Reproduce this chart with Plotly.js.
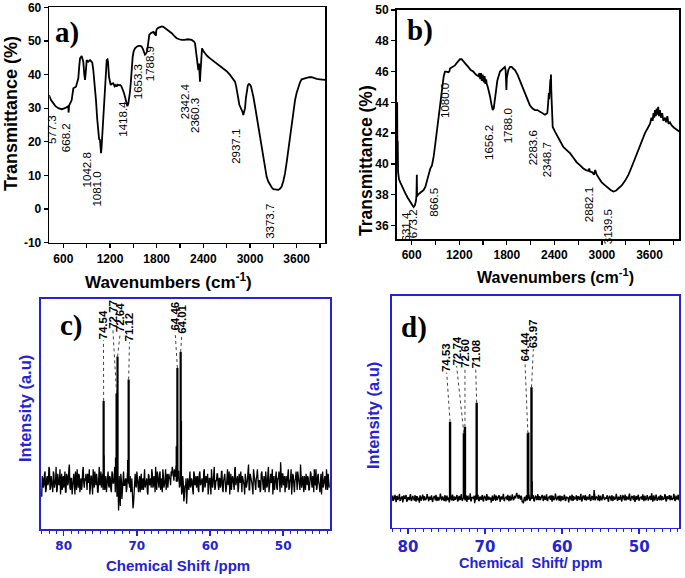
<!DOCTYPE html>
<html><head><meta charset="utf-8">
<script src="https://cdn.plot.ly/plotly-3.0.1.min.js"></script>
<style>html,body{margin:0;padding:0;background:#fff;}#chart{width:685px;height:578px;}</style>
</head><body><div id="chart"></div>
<script>
// ---------- Panel a: FTIR ----------
const irA_wn = [416,440,471,500,536,579,622,650,664,668,675,708,729,763,780,793,805,815,836,857,870,879,888,901,921,943,960,973,985,995,1008,1020,1037,1050,1060,1072,1078,1085,1091,1097,1105,1114,1125,1136,1148,1158,1168,1175,1187,1198,1209,1225,1243,1260,1275,1286,1300,1315,1329,1345,1364,1380,1393,1410,1423,1435,1445,1455,1467,1480,1492,1505,1522,1545,1564,1590,1608,1625,1637,1650,1659,1670,1680,1686,1693,1705,1724,1740,1757,1770,1779,1785,1790,1795,1801,1820,1843,1865,1886,1905,1929,1960,1994,2025,2058,2090,2122,2160,2200,2250,2280,2293,2306,2315,2323,2330,2336,2341,2345,2350,2357,2363,2370,2377,2383,2400,2421,2450,2486,2530,2572,2615,2657,2700,2743,2780,2807,2822,2837,2850,2863,2880,2893,2905,2914,2925,2936,2947,2958,2972,2987,3000,3013,3028,3043,3065,3086,3108,3129,3150,3171,3193,3214,3235,3257,3280,3300,3330,3364,3385,3407,3428,3450,3472,3493,3515,3536,3558,3579,3600,3621,3643,3664,3695,3729,3760,3793,3825,3857,3900,3951,3964];
const irA_T = [33.9,32.5,31.5,30.6,30.0,29.7,30.0,30.3,30.6,28.7,30.8,32.4,35.9,36.4,37.5,38.9,42.5,44.8,45.5,43.8,40.0,38.4,40.5,44.3,43.8,44.3,43.9,43.5,41.5,39.4,35.5,32.4,26.5,21.5,20.8,20.5,18.5,16.6,18.0,20.5,24.5,27.5,33.0,37.4,42.5,44.3,44.5,43.8,39.4,37.5,36.9,37.3,37.4,36.5,36.9,36.4,37.0,36.8,36.9,36.6,35.6,34.5,33.4,31.3,30.6,31.3,32.4,34.5,37.4,42.0,45.3,47.0,47.8,48.3,48.5,48.5,48.3,47.5,46.3,45.9,46.1,46.5,47.3,49.0,50.8,51.8,52.3,52.5,52.7,52.2,51.8,52.8,51.5,53.0,53.5,53.9,54.2,54.3,54.2,53.9,53.5,52.9,52.3,51.5,50.8,50.5,50.3,50.3,50.5,50.3,49.8,49.3,46.3,44.0,42.8,41.5,41.3,43.0,43.3,41.0,37.9,40.5,43.4,46.0,47.8,47.0,46.3,45.5,44.8,44.0,43.3,42.6,41.9,41.0,39.9,38.8,37.9,36.5,34.9,32.8,31.0,30.2,29.5,28.8,28.0,28.8,30.0,33.0,35.4,36.8,37.2,37.0,36.4,35.2,33.4,30.5,27.5,24.0,20.5,17.5,14.6,12.0,9.6,8.2,7.2,6.4,5.9,5.7,5.7,6.0,6.7,8.3,10.6,14.0,17.6,21.5,25.5,29.2,32.4,34.6,36.4,37.7,38.6,38.8,38.9,39.2,39.2,38.9,38.7,38.6,38.4,38.4];
const irA_peakLabels = ['577.3','668.2','1042.8','1081.0','1418.4','1653.3','1788.9','2342.4','2360.3','2937.1','3373.7'];
const irA_yTicks = [-10,0,10,20,30,40,50,60];

// ---------- Panel b: FTIR ----------
const irB_wn = [411,414,417,420,424,428,440,456,480,500,519,550,582,605,625,640,654,660,665,668,680,705,730,750,772,795,814,835,856,866,878,898,919,940,961,982,1004,1020,1040,1062,1075,1083,1110,1146,1175,1209,1230,1251,1280,1314,1345,1377,1410,1440,1455,1465,1475,1485,1495,1503,1510,1520,1530,1540,1546,1560,1575,1588,1605,1622,1635,1651,1665,1680,1697,1714,1735,1756,1775,1785,1790,1795,1800,1810,1819,1840,1861,1880,1903,1935,1966,2000,2029,2060,2092,2125,2155,2185,2218,2250,2282,2300,2311,2318,2323,2330,2335,2340,2345,2350,2354,2357,2361,2366,2372,2379,2408,2440,2471,2513,2555,2597,2640,2682,2725,2765,2800,2830,2840,2849,2880,2900,2915,2925,2934,2965,2997,3040,3080,3110,3143,3175,3206,3250,3291,3335,3375,3420,3459,3500,3543,3575,3606,3625,3640,3650,3660,3669,3680,3690,3700,3710,3720,3732,3745,3760,3775,3795,3810,3825,3840,3858,3880,3910,3942,3976];
const irB_T = [43.9,42.0,44.0,40.2,41.5,39.5,39.0,38.8,38.5,38.25,38.1,37.8,37.5,37.35,37.2,37.3,37.6,37.9,39.3,37.9,38.0,38.1,38.2,38.3,38.5,38.9,39.4,39.7,39.9,40.1,40.5,41.3,42.2,43.0,43.7,44.6,45.7,46.0,46.0,45.95,46.0,46.2,46.3,46.4,46.6,46.8,46.8,46.7,46.5,46.3,46.1,46.0,45.8,45.7,45.9,45.5,45.9,45.4,45.8,45.6,45.3,45.7,45.2,45.5,45.2,45.0,44.7,44.4,43.9,43.5,43.6,44.1,44.8,45.4,45.8,46.0,46.1,46.2,46.3,46.1,45.0,44.8,45.6,46.0,46.1,46.3,46.3,46.2,46.1,45.8,45.4,45.0,44.6,44.2,43.8,43.6,43.5,43.5,43.4,43.3,43.2,43.25,43.3,43.7,44.1,44.6,44.2,45.0,44.8,45.5,44.6,45.8,44.8,44.1,43.2,42.4,42.1,41.8,41.5,41.1,40.9,40.7,40.4,40.1,39.9,39.7,39.6,39.55,39.7,39.5,39.45,39.3,39.6,39.3,39.3,39.05,38.8,38.6,38.4,38.3,38.2,38.25,38.4,38.6,38.9,39.3,39.8,40.4,40.9,41.5,42.0,42.3,42.6,43.0,42.8,43.3,43.0,43.5,43.1,43.6,43.2,43.7,43.1,43.5,43.0,43.3,42.8,43.0,42.7,43.1,42.6,42.7,42.5,42.35,42.2,42.1];
const irB_peakLabels = ['631.4','673.2','866.5','1080.0','1656.2','1788.0','2283.6','2348.7','2882.1','3139.5'];

// ---------- Panel c: 13C NMR ----------
const nmrC_ppmSpan = [83.0, 43.7];
const nmrC_noiseA = [14,22,19,25,17,23,20,26,18,21,16,24,19,27,17,22,20,15,24,21,
18,25,16,23,20,28,17,22,19,24,15,21,26,18,23,19,17,25,20,22,
24,17,21,26,18,23,15,20,25,19,22,16,27,20,18,24,21,17,23,19,
25,18,22,16,24,20,27,29,14,19,23,10,21,17,25,19,22,18,26,20,
23,17,15,11,22,19,25,18,21,16,24,20,17,26,19,22,15,23,20,18,
24,19,21,27,17,22,18,25,20,16,23,19,26,21,18,24,22,25,27,24,
26,23,28,22,25,19,24,16,20,14,18,11,22,17,25,19,21,15,24,20,
18,23,16,25,20,22,17,26,19,21,24,18,22,15,23,20,27,18,21,24,
17,22,19,25,16,23,20,18,26,21,15,24,19,22,17,27,20,23,18,21,
25,16,22,19,24,18,21,28,17,23,20,15,24,19,22,26,18,21,17,25,
20,23,16,22,19,27,18,24,21,15,23,20,25,17,22,19,29,18,24,21,
16,23,20,26,18,22,15,24,19,21,25,17,22,20,28,18,23,16,21,24,
19,22,17,25,20,23,16,21,26,18,24,19,22,15,25,20,23,17,21,24,18];
const nmrC_noiseB = [23,18,24,16,22,19,27,17,23,20,25,18,21,16,24,19,26,22,17,23,
21,16,24,19,26,18,22,15,23,20,25,17,21,24,16,22,19,27,18,21,
17,24,20,15,23,19,26,18,21,24,16,22,19,25,21,17,23,20,16,24,
19,23,17,25,20,22,16,31,22,8,17,24,13,23,19,21,16,24,20,18,
16,22,9,19,24,18,21,16,23,20,17,22,25,18,21,16,24,19,22,26,
18,23,16,21,25,19,24,17,22,26,18,21,17,24,20,22,19,23,26,21,
23,27,21,25,18,22,15,23,12,19,22,16,20,24,18,22,17,25,19,23,
21,17,24,19,22,16,25,18,23,20,15,22,19,26,18,23,17,21,24,19,
22,18,25,17,21,24,16,22,19,25,20,17,23,18,26,19,22,16,24,20,
18,23,20,15,22,19,25,17,24,21,18,26,20,17,23,19,21,16,24,22,
17,21,25,18,24,16,22,20,26,19,17,23,18,22,25,16,21,24,19,23,
22,18,24,17,21,26,19,23,16,22,18,25,20,17,24,21,19,23,17,22,
23,17,21,24,18,22,26,19,17,23,20,16,24,21,18,23,19,26,17,22];
const nmrC_baseline = 20.6;
const nmrC_peakPpm = [74.54, 72.77, 72.64, 71.12, 64.46, 64.01];
const nmrC_peakTop = [55.7, 59, 75, 65, 70, 77];
const nmrC_shoulderPpm = [74.50, 72.90, 71.25, 64.60, 63.92];
const nmrC_shoulderTop = [32, 31, 30, 36, 47];

// ---------- Panel d: 13C NMR ----------
const nmrD_ppmSpan = [82.1, 44.8];
const nmrD_noiseA = [11.5,13.8,12.1,14.2,11.0,13.5,12.4,14.6,11.8,13.0,10.9,13.9,12.6,14.1,11.3,13.2,12.0,14.4,11.6,13.7,
12.3,14.0,11.2,13.4,12.8,10.8,13.6,12.2,14.3,11.7,13.1,12.5,14.5,11.4,13.3,12.0,13.9,11.1,13.6,12.7,
14.2,11.5,13.0,12.4,14.7,11.9,13.5,12.1,14.0,11.3,13.8,12.6,10.9,13.4,12.2,14.3,11.6,13.1,12.8,14.1,
11.4,13.7,12.0,14.4,11.8,13.2,12.5,14.0,11.1,13.6,12.3,14.8,11.7,13.0,12.6,10.6,13.9,12.2,14.2,11.5,
13.4,12.0,14.1,11.3,13.7,12.5,14.5,11.9,13.1,12.4,10.8,13.8,12.1,14.3,11.6,13.3,12.7,14.0,11.2,13.5,
12.2,14.6,11.7,13.0,12.5,14.2,11.4,13.6,12.0,14.4,11.8,13.2,12.6,15.0,13.1,14.2,12.4,13.8,11.0,10.5,
13.3,11.4,13.9,12.1,14.3,11.6,13.0,12.8,14.0,11.3,13.6,12.2,14.5,11.9,13.2,12.5,14.1,11.5,13.8,12.0,
14.4,11.7,13.1,12.6,14.0,11.2,13.5,12.3,14.7,11.8,13.0,12.4,13.9,11.4,13.6,12.1,14.2,11.6,13.3,12.8,
10.9,13.7,12.2,14.3,11.5,13.1,12.6,14.0,11.9,13.4,12.0,14.6,11.3,13.8,12.5,14.1,11.7,13.2,12.3,14.4,
11.6,13.5,12.1,16.2,11.8,13.3,12.7,14.2,11.4,13.6,12.0,14.5,11.9,13.0,12.4,13.9,11.2,13.7,12.6,14.0,
11.5,13.2,12.3,14.6,11.7,13.4,12.0,14.1,11.3,13.8,12.5,14.3,11.8,13.1,12.2,14.7,11.6,13.5,12.8,14.0,
11.1,13.6,12.4,14.2,11.9,13.0,12.6,14.4,11.4,13.7,12.1,14.0,11.7,13.3,12.5,14.8,11.2,13.9,12.0,14.3,
11.6,13.4,12.2,14.1,11.8,13.2,12.7,14.5,11.3,13.6,12.4,14.0,11.9,13.1,12.3,14.6,11.5,13.8,12.1,14.2,11.7];
const nmrD_noiseB = [13.2,11.6,12.9,11.9,13.4,12.0,13.1,11.7,12.8,13.5,11.8,12.6,13.3,11.5,12.9,12.2,13.6,11.9,12.7,13.0,
11.7,12.9,13.4,11.8,12.5,13.8,11.6,12.9,12.3,13.5,11.9,12.7,13.1,11.4,12.8,13.3,12.0,12.6,13.7,11.8,
12.5,13.2,11.7,12.9,13.6,12.1,12.8,11.5,13.3,12.4,11.9,13.0,12.6,13.9,11.8,12.7,13.4,12.0,12.9,11.6,
13.1,12.2,13.7,11.9,12.6,13.3,11.8,12.8,13.5,12.1,12.7,11.4,13.2,12.5,13.8,12.0,12.4,13.6,11.9,12.9,
12.3,13.5,11.8,12.9,13.2,11.6,12.7,13.4,12.1,13.0,12.6,11.7,13.3,12.4,13.8,11.9,12.8,13.1,12.2,12.7,
13.6,11.9,12.8,13.3,12.0,12.7,13.5,11.8,12.9,13.2,12.3,13.7,13.4,14.1,12.5,13.6,12.2,13.0,11.5,12.1,
12.4,13.5,11.8,12.9,13.2,12.1,12.8,13.6,11.7,12.9,13.4,12.0,12.6,13.3,11.9,12.8,13.5,12.2,12.7,13.1,
11.8,12.9,13.4,12.0,12.7,13.6,11.9,12.8,13.2,12.3,13.7,11.6,12.9,13.3,12.1,12.6,13.5,11.9,12.8,13.0,
12.5,13.3,11.8,12.7,13.6,12.2,12.9,11.7,13.4,12.4,13.1,11.9,12.8,13.5,12.0,12.6,13.2,12.3,13.7,11.9,
12.8,13.4,12.1,13.9,12.6,13.1,11.8,12.9,13.5,12.2,12.7,13.3,11.9,12.8,13.6,12.0,12.9,13.2,11.7,12.6,
13.4,12.1,12.8,13.5,11.9,12.7,13.3,12.2,12.9,13.6,11.8,12.6,13.2,12.4,13.8,12.0,12.7,13.4,11.9,12.8,
13.1,12.3,13.6,11.8,12.9,13.3,12.1,12.7,13.5,11.9,12.8,13.2,12.4,13.7,12.0,12.6,13.4,11.8,12.9,13.1,
12.2,13.5,11.9,12.8,13.3,12.1,12.7,13.6,11.8,12.9,13.2,12.3,13.8,12.0,12.6,13.4,11.9,12.8,13.1,12.2];
const nmrD_baseline = 12.6;
const nmrD_peakPpm = [74.53, 72.74, 72.60, 71.08, 64.44, 63.97];
const nmrD_peakTop = [45.7, 40.7, 43.5, 53.9, 40.7, 60.5];
const nmrD_shoulderPpm = [64.34, 63.90];
const nmrD_shoulderTop = [41, 20];

// ---------- layout helpers (positions, styles) ----------
const W = 685, H = 578;
const PX = x => x / W, PY = y => 1 - y / H;
const BLUE = '#2424d2';
const SANS = 'Liberation Sans, Arial, sans-serif';

// merge two recorded sample sequences (alternate samples) on an evenly spaced ppm grid
function interleave(a, b){ const out=[]; for(let i=0;i<a.length;i++){ out.push(a[i]); if(i<b.length) out.push(b[i]); } return out; }
function gridX(span, n){ const a=[]; for(let i=0;i<n;i++) a.push(span[0] + i*(span[1]-span[0])/(n-1)); return a; }
function stems(ppm, top, base){ const x=[], y=[]; ppm.forEach((p,i)=>{ x.push(p,p,null); y.push(base,top[i],null); }); return {x,y}; }

const cNoise = interleave(nmrC_noiseA, nmrC_noiseB);
const dNoise = interleave(nmrD_noiseA, nmrD_noiseB);
const cStems = stems(nmrC_peakPpm, nmrC_peakTop, nmrC_baseline);
const cSh = stems(nmrC_shoulderPpm, nmrC_shoulderTop, nmrC_baseline);
const dStems = stems(nmrD_peakPpm, nmrD_peakTop, nmrD_baseline);
const dSh = stems(nmrD_shoulderPpm, nmrD_shoulderTop, nmrD_baseline);

const traces = [
  {x: irA_wn, y: irA_T, xaxis:'x', yaxis:'y', mode:'lines', line:{color:'#000', width:1.8}},
  {x: irB_wn, y: irB_T, xaxis:'x2', yaxis:'y2', mode:'lines', line:{color:'#000', width:1.8}},
  {x: gridX(nmrC_ppmSpan, cNoise.length), y: cNoise, xaxis:'x3', yaxis:'y3', mode:'lines', line:{color:'#000', width:1.3}},
  {x: cStems.x, y: cStems.y, xaxis:'x3', yaxis:'y3', mode:'lines', line:{color:'#000', width:2.2}},
  {x: cSh.x, y: cSh.y, xaxis:'x3', yaxis:'y3', mode:'lines', line:{color:'#000', width:1.5}},
  {x: gridX(nmrD_ppmSpan, dNoise.length), y: dNoise, xaxis:'x4', yaxis:'y4', mode:'lines', line:{color:'#000', width:1.4}},
  {x: dStems.x, y: dStems.y, xaxis:'x4', yaxis:'y4', mode:'lines', line:{color:'#000', width:2.4}},
  {x: dSh.x, y: dSh.y, xaxis:'x4', yaxis:'y4', mode:'lines', line:{color:'#000', width:1.5}}
];

const irTickFont = {family: SANS, size: 12, color:'#000', weight:'bold'};
function irX(domain, range, anchor){
  return {domain, range, anchor, tick0:0, dtick:600, ticks:'outside', ticklen:4, tickwidth:1.3, tickcolor:'#000',
    showline:true, linewidth:1.6, linecolor:'#000', mirror:true, showgrid:false, zeroline:false, tickfont:irTickFont,
    minor:{tick0:0, dtick:300, ticks:'outside', ticklen:4, tickwidth:1.3, tickcolor:'#000', showgrid:false}};
}
function irY(domain, range, anchor, extra){
  return Object.assign({domain, range, anchor, ticks:'outside', ticklen:4, tickwidth:1.3, tickcolor:'#000',
    showline:true, linewidth:1.6, linecolor:'#000', mirror:true, showgrid:false, zeroline:false, tickfont:irTickFont}, extra);
}
function nmrX(domain, range, anchor, fs){
  return {domain, range, anchor, tick0:0, dtick:10, ticks:'outside', ticklen:5, tickwidth:1.5, tickcolor:BLUE,
    showline:true, linewidth:1.6, linecolor:BLUE, mirror:true, showgrid:false, zeroline:false,
    tickfont:{family:'DejaVu Sans, sans-serif', size:fs, color:BLUE, weight:'bold'},
    minor:{tick0:0, dtick:1, ticks:'outside', ticklen:3, tickwidth:1, tickcolor:BLUE, showgrid:false}};
}
function nmrY(domain, anchor){
  return {domain, range:[0,100], anchor, showticklabels:false, ticks:'', showline:true, linewidth:1.6,
    linecolor:BLUE, mirror:true, showgrid:false, zeroline:false};
}

const annotations = [];
function paperText(text, x, y, size, opts){
  annotations.push(Object.assign({text, xref:'paper', yref:'paper', x:PX(x), y:PY(y), showarrow:false,
    xanchor:'center', yanchor:'middle', font:{family:SANS, size, color:'#000', weight:'bold'}}, opts||{}));
}
// axis titles
paperText('Transmittance (%)', 11, 114, 18, {textangle:-90});
paperText('Wavenumbers (cm<sup>-1</sup>)', 168, 281, 17);
paperText('Transmittance (%)', 366, 160, 17.5, {textangle:-90});
paperText('Wavenumbers (cm<sup>-1</sup>)', 555, 276, 16);
paperText('Intensity (a.u)', 25, 408, 16.5, {textangle:-90, font:{family:SANS, size:16.5, color:BLUE, weight:'bold'}});
paperText('Chemical Shift /ppm', 178, 565, 15, {font:{family:SANS, size:15, color:BLUE, weight:'bold'}});
paperText('Intensity (a.u)', 373, 416, 16.5, {textangle:-90, font:{family:SANS, size:16.5, color:BLUE, weight:'bold'}});
paperText('Chemical\u00a0 Shift/ ppm', 530, 563, 14.5, {font:{family:SANS, size:14.5, color:BLUE, weight:'bold'}});
// panel letters
const serif = {family:'Liberation Serif, Times New Roman, serif', size:29, color:'#000', weight:'bold'};
paperText('a)', 67, 33, 29, {font:serif});
paperText('b)', 420, 30, 29, {font:serif});
paperText('c)', 71, 325, 29, {font:serif});
paperText('d)', 414, 327, 29, {font:serif});

// FTIR peak labels (label centre positions)
const irA_labelPos = [[455,23.5],[635,21.1],[909,11.6],[1029,6.0],[1364,26.8],[1564,37.8],[1715,43.1],[2165,32.1],[2293,27.7],[2820,18.8],[3257,-3.8]];
const irB_labelPos = [[534,35.9],[620,36.1],[885,37.5],[1020,44.15],[1575,41.42],[1819,42.46],[2134,41.03],[2311,40.25],[2837,37.32],[3080,35.9]];
irA_peakLabels.forEach((t,i)=>annotations.push({text:t, xref:'x', yref:'y', x:irA_labelPos[i][0], y:irA_labelPos[i][1],
  textangle:-90, showarrow:false, xanchor:'center', yanchor:'middle', font:{family:SANS, size:11.5, color:'#000'}}));
irB_peakLabels.forEach((t,i)=>annotations.push({text:t, xref:'x2', yref:'y2', x:irB_labelPos[i][0], y:irB_labelPos[i][1],
  textangle:-90, showarrow:false, xanchor:'center', yanchor:'middle', font:{family:SANS, size:11.5, color:'#000'}}));

// NMR peak labels + dotted leaders
const nmrC_labelPos = [[74.56,88.7],[73.28,93.5],[72.28,91.7],[71.01,87.8],[64.77,92.4],[63.85,91.3]];
const nmrD_labelPos = [[74.97,73.4],[73.68,76.2],[72.60,75.3],[71.21,74.9],[64.81,77.7],[63.73,83.5]];
const shapes = [];
function nmrLabels(ppm, top, pos, xr, yr, half){
  ppm.forEach((p,i)=>{
    annotations.push({text:p.toFixed(2), xref:xr, yref:yr, x:pos[i][0], y:pos[i][1], textangle:-90, showarrow:false,
      xanchor:'center', yanchor:'middle', font:{family:SANS, size:11.5, color:'#000', weight:'bold'}});
    shapes.push({type:'line', xref:xr, yref:yr, x0:p, y0:top[i], x1:pos[i][0], y1:pos[i][1]-half,
      line:{color:'#444', width:1, dash:'dot'}});
  });
}
nmrLabels(nmrC_peakPpm, nmrC_peakTop, nmrC_labelPos, 'x3', 'y3', 6.6);
nmrLabels(nmrD_peakPpm, nmrD_peakTop, nmrD_labelPos, 'x4', 'y4', 6.5);

const layout = {
  width: W, height: H, margin:{l:0, r:0, t:0, b:0}, showlegend:false,
  paper_bgcolor:'#fff', plot_bgcolor:'#fff',
  xaxis: irX([PX(49.3), PX(325)], [420, 3964], 'y'),
  yaxis: irY([PY(242.7), PY(7.3)], [-10, 60], 'x', {tickvals: irA_yTicks, ticktext: irA_yTicks.map(String)}),
  xaxis2: irX([PX(396.7), PX(679.3)], [411, 3976], 'y2'),
  yaxis2: irY([PY(239.3), PY(10)], [35.1, 50], 'x2', {tick0:0, dtick:2}),
  xaxis3: nmrX([PX(41), PX(330)], [83.1, 43.6], 'y3', 12),
  yaxis3: nmrY([PY(529), PY(299)], 'x3'),
  xaxis4: nmrX([PX(391.7), PX(679.3)], [82.1, 44.8], 'y4', 15),
  yaxis4: nmrY([PY(527.7), PY(295.7)], 'x4'),
  annotations, shapes
};

Plotly.newPlot('chart', traces, layout, {displayModeBar:false, staticPlot:true});
</script></body></html>
